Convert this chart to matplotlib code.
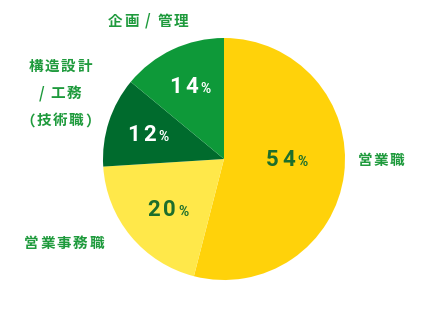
import matplotlib
matplotlib.use("Agg")
import matplotlib.pyplot as plt
from matplotlib.offsetbox import TextArea, HPacker, VPacker, AnnotationBbox

categories = ["営業職", "営業事務職", "構造設計\n/ 工務\n（技術職）", "企画 / 管理"]
values = [54, 20, 12, 14]
colors = ["#FFD20A", "#FFE84A", "#006B2D", "#0E9939"]
pct_colors = ["#1C6E2C", "#1C6E2C", "#FFFFFF", "#FFFFFF"]

# label positions in pixel coords (x, y from top)
label_px = [(381, 160), (64, 243), (60, 93), (148, 21)]
pct_px = [(287, 160), (168, 210), (148, 135), (190, 87)]

W, H = 448, 320
cx, cy, R = 224, 159, 121

fig = plt.figure(figsize=(W / 100, H / 100), dpi=100)
ax = fig.add_axes([0, 0, 1, 1])

ax.pie(values, colors=colors, startangle=90, counterclock=False, radius=1,
       wedgeprops=dict(linewidth=0))
ax.set_aspect("auto")
ax.set_xlim(-cx / R, (W - cx) / R)
ax.set_ylim(-(H - cy) / R, cy / R)
ax.axis("off")

def px2d(px, py):
    return (px - cx) / R, (cy - py) / R

cjk = ["Noto Sans CJK JP", "DejaVu Sans"]

def spaced_line(s, props, sep):
    kids = []
    for ch in s:
        if ch == " ":
            kids.append(TextArea("\u2009" if False else " ", textprops=dict(props)))
        else:
            kids.append(TextArea(ch, textprops=dict(props)))
    return HPacker(children=kids, align="baseline", pad=0, sep=sep)

lab_props = dict(fontsize=10.5, fontweight="bold", color="#1E9A3C", family=cjk)
for lab, (px, py) in zip(categories, label_px):
    x, y = px2d(px, py)
    lines = [spaced_line(l, lab_props, 1.2) for l in lab.split("\n")]
    box = VPacker(children=lines, align="center", pad=0, sep=8)
    ax.add_artist(AnnotationBbox(box, (x, y), frameon=False, box_alignment=(0.5, 0.5)))

for v, c, (px, py) in zip(values, pct_colors, pct_px):
    x, y = px2d(px, py)
    num_props = dict(fontsize=16, fontweight="bold", color=c, family="Roboto")
    digits = spaced_line(str(v), num_props, 2.5)
    t2 = TextArea("%", textprops=dict(fontsize=10, fontweight="bold", color=c,
                                      family="Roboto"))
    box = HPacker(children=[digits, t2], align="baseline", pad=0, sep=2)
    ax.add_artist(AnnotationBbox(box, (x, y), frameon=False, box_alignment=(0.5, 0.5)))

fig.savefig("out.png", dpi=100)
